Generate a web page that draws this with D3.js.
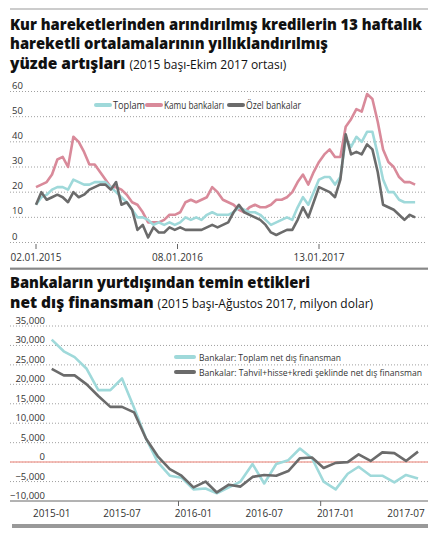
<!DOCTYPE html>
<html><head><meta charset="utf-8">
<script src="https://cdn.jsdelivr.net/npm/d3@7"></script>
<style>body{margin:0;background:#fff}svg{display:block;font-family:"Open Sans",sans-serif}</style>
</head><body><svg id="c" width="444" height="538"></svg>
<script>
// ---- Chart 1 data (biweekly from 02.01.2015) ----
const toplam = [15,18,19,21,22,22,21,25,24,23,23,24,24,24,22,20,18,16,13,10,10,9,7,8,7,8,7,8,10,9,10,9,11,12,11,11,11,12,14,13,12,12,11,9,7,8,9,10,9,14,18,15,20,25,26,26,23,26,41,38,42,40,44,44,35,25,20,20,17,16,16,16];
const kamu = [22,23,24,27,33,34,30,42,40,36,31,31,28,25,22,22,21,19,16,15,12,8,8,8,9,11,11,12,16,17,16,17,18,22,20,17,16,15,13,12,14,15,14,14,15,17,17,18,20,24,27,23,28,32,35,37,34,34,46,49,53,52,59,57,48,37,32,30,26,24,24,23];
const ozel = [15,20,17,18,19,18,16,20,18,19,21,22,23,23,21,24,15,16,13,5,7,2,6,4,4,6,5,6,5,5,5,5,6,7,6,7,8,12,15,12,11,10,9,7,4,3,4,5,5,9,14,10,16,22,21,20,18,25,43,35,36,35,39,37,28,15,14,13,11,9,11,10];
const topTicksY = [0,10,20,30,40,50,60];
const topTickLabels = ["02.01.2015","08.01.2016","13.01.2017"];
const topSeriesNames = ["Toplam","Kamu bankaları","Özel bankalar"];
// ---- Chart 2 data (monthly from 2015-01) ----
const netToplam = [31500,28500,27000,24000,18500,18500,21500,14000,6000,0,-3500,-4000,-7000,-6800,-8000,-6500,-5000,-500,-5500,-500,500,3500,1000,-5000,-7000,-3000,-1200,-3500,-3500,-5200,-3300,-4200];
const netTahvil = [24000,22300,22300,20000,17000,14200,14200,12800,6000,1500,-1800,-3500,-6500,-5000,-7800,-5800,-6300,-3800,-3300,-3500,-2300,1000,1200,-1500,-200,0,2000,300,2500,2300,300,2700];
const botTicksY = [-10000,-5000,0,5000,10000,15000,20000,25000,30000,35000];
const botTickLabels = ["2015-01","2015-07","2016-01","2016-07","2017-01","2017-07"];
const botSeriesNames = ["Bankalar: Toplam net dış finansman","Bankalar: Tahvil+hisse+kredi şeklinde net dış finansman"];

const svg = d3.select("#c");
const teal="#9fd9da", pink="#d98a9a", gray="#6b6b6b";

svg.append("line").attr("x1",10).attr("x2",428).attr("y1",9).attr("y2",9).attr("stroke","#999");
svg.append("line").attr("x1",10).attr("x2",428).attr("y1",268).attr("y2",268).attr("stroke","#999");
svg.append("rect").attr("x",12).attr("y",524).attr("width",416).attr("height",4).attr("fill","#999");

const t = svg.append("g").attr("fill","#111");
t.append("text").attr("x",10).attr("y",30).attr("font-weight",800).attr("font-size",15.5).attr("textLength",412).attr("lengthAdjust","spacingAndGlyphs").text("Kur  hareketlerinden arındırılmış kredilerin 13 haftalık");
t.append("text").attr("x",10).attr("y",49).attr("font-weight",800).attr("font-size",15.5).attr("textLength",318).attr("lengthAdjust","spacingAndGlyphs").text("hareketli ortalamalarının yıllıklandırılmış");
const l3=t.append("text").attr("x",10).attr("y",69);
l3.append("tspan").attr("font-weight",800).attr("font-size",15.5).text("yüzde artışları");
l3.append("tspan").attr("font-size",12).attr("dx",4).text("(2015 başı-Ekim 2017 ortası)");
t.append("text").attr("x",10).attr("y",288).attr("font-weight",800).attr("font-size",15.5).attr("textLength",300).attr("lengthAdjust","spacingAndGlyphs").text("Bankaların yurtdışından temin ettikleri");
const l5=t.append("text").attr("x",10).attr("y",308);
l5.append("tspan").attr("font-weight",800).attr("font-size",15.5).text("net dış finansman");
l5.append("tspan").attr("font-size",12).attr("dx",4).text("(2015 başı-Ağustos 2017, milyon dolar)");

// ---- Chart 1 ----
const d0 = new Date(2015,0,2);
const dates1 = toplam.map((_,i)=>d3.timeDay.offset(d0,14*i));
const x1 = d3.scaleTime().domain([new Date(2015,0,2),new Date(2017,0,13)]).range([36,319]);
const y1 = d3.scaleLinear().domain([0,60]).range([242.5,91.5]);
const g1 = svg.append("g");
topTicksY.forEach(v=>{
  g1.append("line").attr("x1",10).attr("x2",426).attr("y1",y1(v)).attr("y2",y1(v)).attr("stroke","#888").attr("stroke-dasharray","1,2").attr("stroke-width",0.8);
  g1.append("text").attr("x",12).attr("y",y1(v)-3).attr("font-size",9.5).attr("fill","#333").text(v);
});
g1.append("line").attr("x1",10).attr("x2",428).attr("y1",269).attr("y2",269).attr("stroke","#444");
const tk1=[new Date(2015,0,2),new Date(2016,0,8),new Date(2017,0,13)];
tk1.forEach((d,i)=>{
  g1.append("line").attr("x1",x1(d)).attr("x2",x1(d)).attr("y1",244).attr("y2",249).attr("stroke","#666");
  g1.append("text").attr("x",x1(d)).attr("y",261).attr("text-anchor","middle").attr("font-size",10).attr("fill","#333").text(topTickLabels[i]);
});
const line1 = d3.line().x((d,i)=>x1(dates1[i])).y(d=>y1(d));
[[kamu,pink],[toplam,teal],[ozel,gray]].forEach(([s,c])=>{
  g1.append("path").attr("d",line1(s)).attr("fill","none").attr("stroke",c).attr("stroke-width",2.6).attr("stroke-linejoin","round");
});
const leg1=[[96,teal,32],[147,pink,60],[229,gray,55]];
leg1.forEach(([lx,c,w],i)=>{
  g1.append("line").attr("x1",lx).attr("x2",lx+14).attr("y1",105).attr("y2",105).attr("stroke",c).attr("stroke-width",4).attr("stroke-linecap","round");
  g1.append("text").attr("x",lx+17).attr("y",109).attr("font-size",10).attr("fill","#333").attr("textLength",w).attr("lengthAdjust","spacingAndGlyphs").text(topSeriesNames[i]);
});

// ---- Chart 2 ----
const dates2 = netToplam.map((_,i)=>new Date(2015,i,1));
const x2 = d3.scaleTime().domain([new Date(2015,0,1),new Date(2017,6,1)]).range([51.7,406]);
const y2 = d3.scaleLinear().domain([-10000,35000]).range([501,326]);
const g2 = svg.append("g");
botTicksY.forEach(v=>{
  if(v>-10000) g2.append("line").attr("x1",10).attr("x2",428).attr("y1",y2(v)).attr("y2",y2(v)).attr("stroke","#888").attr("stroke-dasharray","1,2").attr("stroke-width",0.8);
  g2.append("text").attr("x",45).attr("y",y2(v)-2).attr("text-anchor","end").attr("font-size",9.5).attr("fill","#333").text(d3.format(",")(v));
});
g2.append("line").attr("x1",10).attr("x2",428).attr("y1",y2(-10000)).attr("y2",y2(-10000)).attr("stroke","#666");
g2.append("line").attr("x1",10).attr("x2",428).attr("y1",y2(0)).attr("y2",y2(0)).attr("stroke","#f0a8a0").attr("stroke-width",1.5);
botTickLabels.forEach((lab,i)=>{
  const d=new Date(2015,6*i,1);
  if(i%2===0 && i>0) g2.append("line").attr("x1",x2(d)-15).attr("x2",x2(d)-15).attr("y1",501).attr("y2",506).attr("stroke","#666");
  g2.append("text").attr("x",x2(d)).attr("y",517).attr("text-anchor","middle").attr("font-size",10).attr("fill","#333").text(lab);
});
const line2 = d3.line().x((d,i)=>x2(dates2[i])).y(d=>y2(d));
[[netToplam,teal],[netTahvil,gray]].forEach(([s,c])=>{
  g2.append("path").attr("d",line2(s)).attr("fill","none").attr("stroke",c).attr("stroke-width",2.6).attr("stroke-linejoin","round");
});
[[357,teal,142],[372,gray,223]].forEach(([ly,c,w],i)=>{
  g2.append("line").attr("x1",176).attr("x2",194).attr("y1",ly).attr("y2",ly).attr("stroke",c).attr("stroke-width",4).attr("stroke-linecap","round");
  g2.append("text").attr("x",199).attr("y",ly+3.5).attr("font-size",9).attr("fill","#333").attr("textLength",w).attr("lengthAdjust","spacingAndGlyphs").text(botSeriesNames[i]);
});
</script></body></html>
